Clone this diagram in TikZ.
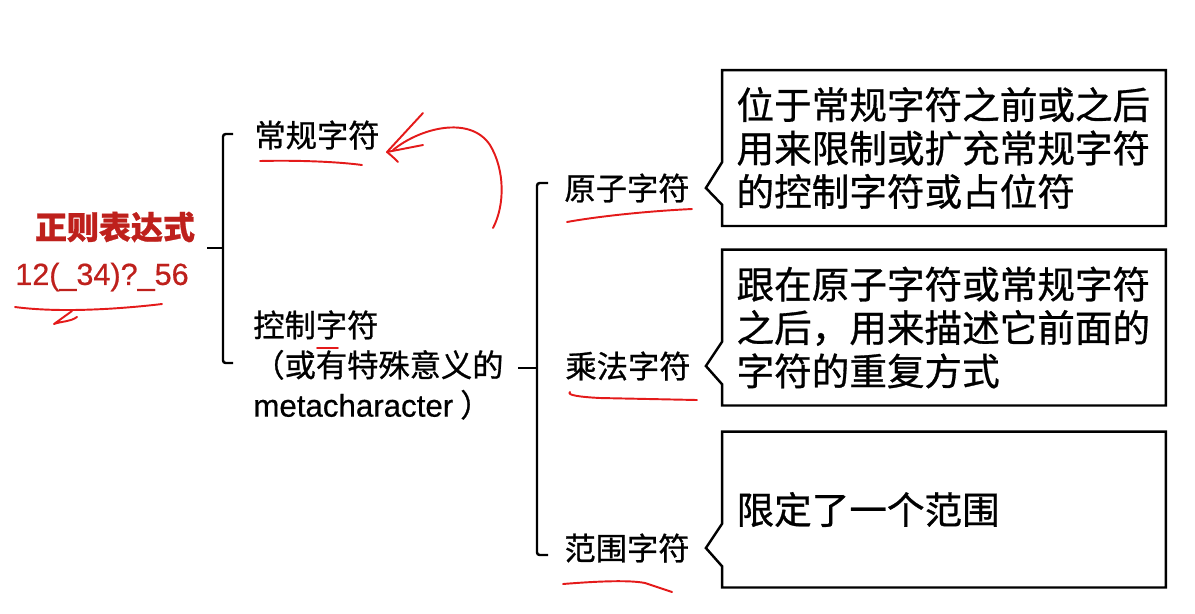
\documentclass[tikz,border=0pt]{standalone}
\usepackage{fontspec}
\setmainfont{Noto Sans CJK SC}[RawFeature={embolden=0.8}]
\newfontfamily\lsans{Liberation Sans}[RawFeature={embolden=0.6}]
\usetikzlibrary{shapes.callouts}
\definecolor{titlered}{RGB}{190,32,28}
\definecolor{penred}{RGB}{228,26,26}
\tikzset{
  leaf/.style={inner sep=0pt, font=\fontsize{17.8}{22.7}\selectfont},
  notebox/.style={rectangle callout, draw, line width=1.4pt, text width=8.3cm,
    inner xsep=0.29cm, inner ysep=0pt, minimum height=3.12cm, align=left,
    font=\fontsize{21.4}{24.7}\selectfont, callout pointer width=0.85cm},
  bracketline/.style={line width=1.4pt, rounded corners=1.5pt},
  penline/.style={draw=penred, line width=1.1pt, line cap=round, line join=round},
}
\begin{document}
\begin{tikzpicture}[x=0.02cm, y=-0.02cm]
  \useasboundingbox (0,0) rectangle (1195,613);
  % root: the pattern and its example
  \node[inner sep=0pt, text=titlered, font=\bfseries\fontsize{18.2}{22}\selectfont] (title) at (115,227) {正则表达式};
  \node[inner sep=0pt, text=titlered, font=\lsans\fontsize{17.4}{21}\selectfont] (pattern) at (102,277) {12(\_34)?\_56};
  % first level
  \node[leaf] (regular) at (317,135) {常规字符};
  \node[leaf, anchor=west, align=left] (control) at (253,365) {控制字符\\（或有特殊意义的\\{\lsans metacharacter} ）};
  % second level
  \node[leaf] (atom) at (627,188) {原子字符};
  \node[leaf] (mult) at (628,366) {乘法字符};
  \node[leaf] (range) at (627,548) {范围字符};
  % pointer tips of the notes
  \coordinate (atomtip) at ([xshift=0.32cm]atom.east);
  \coordinate (multtip) at ([xshift=0.3cm]mult.east);
  \coordinate (rangetip) at ([xshift=0.32cm]range.east);
  % notes
  \node[notebox, callout absolute pointer={(atomtip)}] (atomnote) at (944,148)
    {位于常规字符之前或之后\\用来限制或扩充常规字符\\的控制字符或占位符};
  \node[notebox, callout absolute pointer={(multtip)}] (multnote) at (944,327.5)
    {跟在原子字符或常规字符\\之后，用来描述它前面的\\字符的重复方式};
  \node[notebox, callout absolute pointer={(rangetip)}] (rangenote) at (944,509.5)
    {限定了一个范围};
  % left bracket
  \coordinate (ltop) at (233,134);
  \coordinate (lbot) at (233,363);
  \coordinate (lmid) at (207,248);
  \draw[bracketline] (ltop) -- ++(-10,0) -- ++(0,229) -- (lbot);
  \draw[bracketline] (lmid) -- ++(16,0);
  % right bracket
  \coordinate (rtop) at (548,183);
  \coordinate (rbot) at (548,555);
  \coordinate (rmid) at (518,368);
  \draw[bracketline] (rtop) -- ++(-11,0) -- ++(0,372) -- (rbot);
  \draw[bracketline] (rmid) -- ++(19,0);
  % red pen marks
  \draw[penline] (15,307) .. controls (60,313) and (120,309) .. (162,304);
  \draw[penline] (72,311) -- (54,324) .. controls (62,321) and (70,322) .. (77,317);
  \draw[penline] (260,161) .. controls (300,160) and (340,162) .. (362,165);
  \draw[penline] (317,348) -- (338,348);
  \draw[penline] (493,228) .. controls (505,205) and (505,170) .. (490,145)
    .. controls (470,115) and (420,128) .. (393,150);
  \draw[penline] (423,113) -- (387,152) -- (423,145);
  \draw[penline] (387,152) .. controls (392,156) and (395,159) .. (398,162);
  \draw[penline] (567,222) .. controls (600,216) and (650,211) .. (692,209);
  \draw[penline] (570,392) .. controls (566,395) and (580,397) .. (600,398) -- (697,400);
  \draw[penline] (563,584) .. controls (600,581) and (630,580) .. (645,583) -- (672,592);
\end{tikzpicture}
\end{document}
